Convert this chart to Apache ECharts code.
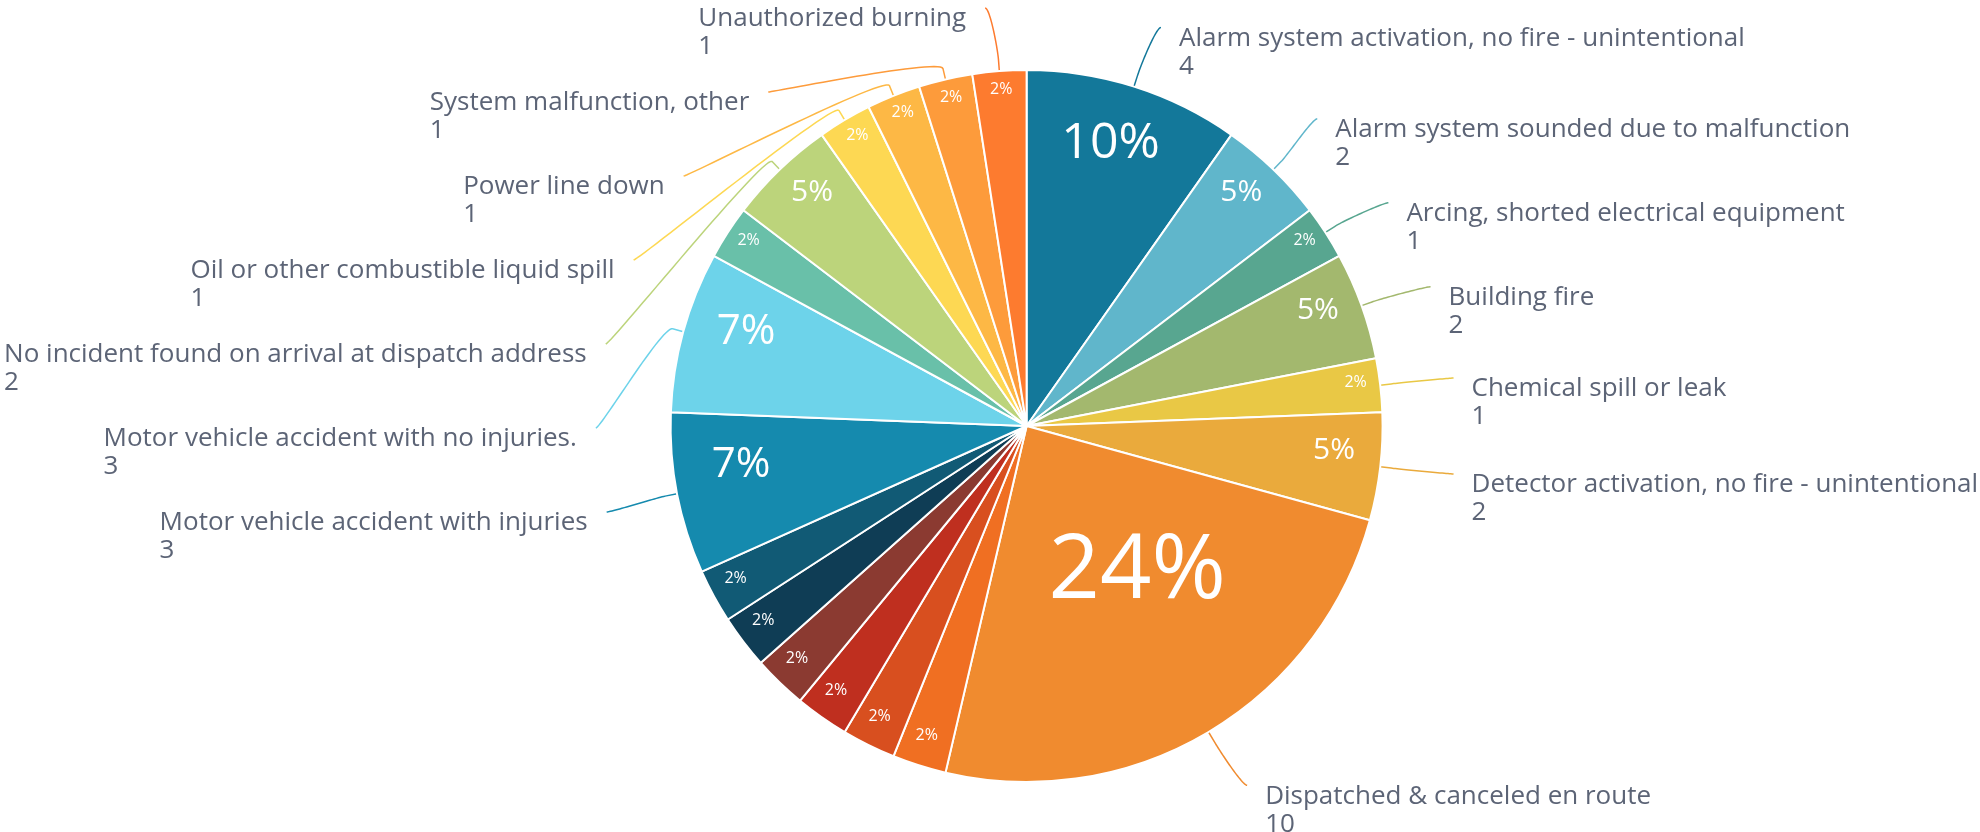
<!DOCTYPE html>
<html>
<head>
<meta charset="utf-8">
<script src="https://cdn.jsdelivr.net/npm/echarts@6/dist/echarts.min.js"></script>
<style>
html,body{margin:0;padding:0;background:#ffffff;}
#chart{width:1980px;height:832px;}
</style>
</head>
<body>
<div id="chart"></div>
<script>
// ---- data ----
const categories = [
  "Alarm system activation, no fire - unintentional",
  "Alarm system sounded due to malfunction",
  "Arcing, shorted electrical equipment",
  "Building fire",
  "Chemical spill or leak",
  "Detector activation, no fire - unintentional",
  "Dispatched & canceled en route",
  "Unlabeled category 1",
  "Unlabeled category 2",
  "Unlabeled category 3",
  "Unlabeled category 4",
  "Unlabeled category 5",
  "Unlabeled category 6",
  "Motor vehicle accident with injuries",
  "Motor vehicle accident with no injuries.",
  "Unlabeled category 7",
  "No incident found on arrival at dispatch address",
  "Oil or other combustible liquid spill",
  "Power line down",
  "System malfunction, other",
  "Unauthorized burning"
];
const values = [4, 2, 1, 2, 1, 2, 10, 1, 1, 1, 1, 1, 1, 3, 3, 1, 2, 1, 1, 1, 1];
const colors = [
  "#13789a", "#60b6cb", "#58a690", "#a3b86e", "#e9c845", "#eaaa3c", "#f08b2f",
  "#f06f22", "#d84f1f", "#bf2f1f", "#8b3a31", "#0f3d55", "#115a75",
  "#158aae", "#6dd3ea", "#69c0a9", "#bcd47b", "#fdd853", "#fdb845", "#fd9b3b", "#fd7b2f"
];
const hiddenLabels = [
  "Unlabeled category 1", "Unlabeled category 2", "Unlabeled category 3",
  "Unlabeled category 4", "Unlabeled category 5", "Unlabeled category 6",
  "Unlabeled category 7"
];

// ---- layout / style constants ----
const CX = 1026.6, CY = 426, R = 356;
const FONT = "'Open Sans', 'Noto Sans', sans-serif";
const TEXT_COLOR = '#5c6476';
const insideFont = { 1: 16, 2: 30, 3: 42, 4: 50, 10: 90 };
const insideLift = { 1: 6, 2: 10.7, 3: 16.5, 4: 16.5, 10: 40 };
const LBL = { yRadius: 418, xRadius: 431, xPad: 11, box: 84, topMin: 8,
              gapRight: 18, gapLeft: 19, textDy: -3, breakOffset: 11, ctrl: 5 };

const total = values.reduce((a, b) => a + b, 0);
const cumulative = values.map((v, i) => values.slice(0, i).reduce((a, b) => a + b, 0));
const mids = values.map((v, i) => (cumulative[i] + v / 2) / total * Math.PI * 2);
const isHidden = i => hiddenLabels.indexOf(categories[i]) >= 0;

// distribute outside labels vertically on each side, then place them on a ring
function layoutOuterLabels() {
  const res = {};
  ['left', 'right'].forEach(side => {
    const dir = side === 'left' ? -1 : 1;
    const items = categories.map((c, i) => i)
      .filter(i => !isHidden(i) && ((Math.sin(mids[i]) < 0) === (side === 'left')))
      .map(i => ({ i: i, t: CY - LBL.yRadius * Math.cos(mids[i]) }))
      .sort((a, b) => a.t - b.t);
    const clusters = items.map(it => ({ members: [it], start: it.t }));
    for (;;) {
      clusters.forEach(c => { c.start = Math.max(LBL.topMin, c.start); });
      let merged = false;
      for (let k = 0; k < clusters.length - 1; k++) {
        const a = clusters[k], b = clusters[k + 1];
        if (a.start + a.members.length * LBL.box > b.start + 0.01) {
          const members = a.members.concat(b.members);
          const mean = members.reduce((s, m) => s + m.t, 0) / members.length;
          clusters.splice(k, 2, { members: members, start: mean - (members.length - 1) * LBL.box / 2 });
          merged = true;
          break;
        }
      }
      if (!merged) break;
    }
    clusters.forEach(c => c.members.forEach((m, j) => {
      const y = c.start + j * LBL.box;
      const adj = Math.abs(y - CY) + LBL.xPad;
      const x = CX + dir * Math.sqrt(Math.max(0, LBL.xRadius * LBL.xRadius - adj * adj));
      res[m.i] = { x: x, y: y, dir: dir };
    }));
  });
  return res;
}
const outerPos = layoutOuterLabels();

function connector(i, end) {
  const sx = Math.sin(mids[i]), sy = -Math.cos(mids[i]);
  const touch = [CX + R * sx, CY + R * sy];
  const brk = [touch[0] + LBL.breakOffset * sx, touch[1] + LBL.breakOffset * sy];
  const c2 = [2 * brk[0] - touch[0], 2 * brk[1] - touch[1]];
  const p0 = [end.x, end.y];
  const c1 = [end.x - end.dir * LBL.ctrl, end.y];
  const pts = [touch, brk];
  const N = 30;
  for (let k = N - 1; k >= 0; k--) {
    const t = k / N, u = 1 - t;
    const a = u * u * u, b = 3 * u * u * t, c = 3 * u * t * t, d = t * t * t;
    pts.push([a * p0[0] + b * c1[0] + c * c2[0] + d * brk[0],
              a * p0[1] + b * c1[1] + c * c2[1] + d * brk[1]]);
  }
  return pts;
}

const chart = echarts.init(document.getElementById('chart'), null, { renderer: 'canvas' });

const outerData = categories.map((name, i) => ({
  name: name,
  value: values[i],
  itemStyle: { color: colors[i] },
  label: { show: !isHidden(i) },
  labelLine: { show: !isHidden(i) }
}));

const innerData = categories.map((name, i) => ({
  name: name,
  value: values[i],
  label: { fontSize: insideFont[values[i]] || 16 }
}));

const option = {
  backgroundColor: '#ffffff',
  animation: false,
  series: [
    {
      type: 'pie',
      center: [CX, CY],
      radius: R,
      startAngle: 90,
      clockwise: true,
      avoidLabelOverlap: false,
      data: outerData,
      itemStyle: { borderColor: '#ffffff', borderWidth: 2 },
      label: {
        position: 'outside',
        overflow: 'none',
        formatter: '{n|{b}}\n{n|{c}}',
        rich: {
          n: { fontFamily: FONT, fontSize: 26, lineHeight: 28, color: TEXT_COLOR, align: 'left' }
        }
      },
      labelLine: { length: 20, length2: 10, smooth: false, lineStyle: { width: 1.5 } },
      labelLayout: function (p) {
        const pos = outerPos[p.dataIndex];
        if (!pos) return {};
        return {
          x: pos.x + (pos.dir > 0 ? LBL.gapRight : -LBL.gapLeft),
          y: pos.y + LBL.textDy,
          align: pos.dir > 0 ? 'left' : 'right',
          verticalAlign: 'top',
          labelLinePoints: connector(p.dataIndex, pos)
        };
      },
      emphasis: { disabled: true }
    },
    {
      type: 'pie',
      center: [CX, CY],
      radius: R,
      startAngle: 90,
      clockwise: true,
      silent: true,
      data: innerData,
      itemStyle: { color: 'rgba(0,0,0,0)', borderWidth: 0 },
      label: {
        position: 'inside',
        color: '#ffffff',
        fontFamily: FONT,
        formatter: p => Math.round(p.value / total * 100) + '%'
      },
      labelLine: { show: false },
      labelLayout: function (p) {
        const i = p.dataIndex;
        const fs = insideFont[values[i]] || 16;
        const lift = insideLift[values[i]] || 6;
        const rr = R - 1.55 * fs;
        return {
          x: CX + rr * Math.sin(mids[i]),
          y: CY - rr * Math.cos(mids[i]) - lift,
          align: 'center',
          verticalAlign: 'middle'
        };
      },
      emphasis: { disabled: true }
    }
  ]
};
chart.setOption(option);
</script>
</body>
</html>
